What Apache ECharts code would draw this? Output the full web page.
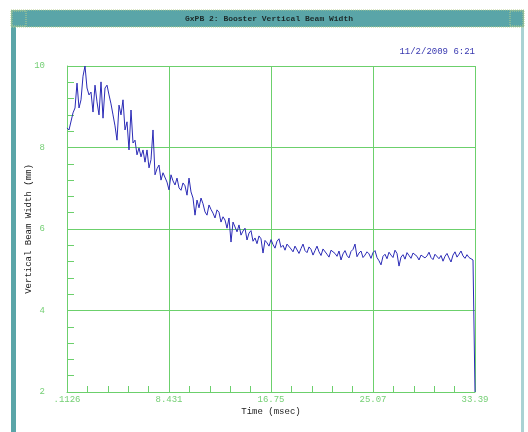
<!DOCTYPE html>
<html>
<head>
<meta charset="utf-8">
<script src="https://cdn.jsdelivr.net/npm/echarts@6/dist/echarts.min.js"></script>
<style>
  html, body { margin: 0; padding: 0; background: #ffffff; }
  #chart { width: 528px; height: 432px; }
</style>
</head>
<body>
<div id="chart"></div>
<script>
// Scope trace: booster vertical beam width (mm), uniformly sampled from the first to the last time stamp
const traceStart = 0.1126;   // msec
const traceEnd = 33.39;      // msec
const beamWidth = [
  8.48, 8.43, 8.40, 8.85, 8.97, 9.58, 8.97, 9.17, 9.75, 10.0,
  9.46, 9.29, 9.36, 8.87, 9.53, 9.12, 8.80, 9.61, 8.72, 9.46,
  9.53, 9.29, 9.07, 8.80, 8.53, 8.18, 9.04, 8.80, 9.17, 8.43,
  8.63, 7.94, 8.92, 8.11, 8.18, 7.82, 7.99, 7.77, 7.94, 7.64,
  7.94, 7.50, 7.70, 8.43, 7.33, 7.48, 7.57, 7.20, 7.38, 7.40,
  7.15, 6.96, 7.33, 7.18, 7.08, 7.25, 7.01, 6.95, 7.13, 7.06,
  6.83, 7.25, 6.91, 6.76, 6.34, 6.71, 6.52, 6.76, 6.62, 6.42,
  6.34, 6.59, 6.48, 6.39, 6.27, 6.47, 6.41, 6.17, 6.30, 6.22,
  6.02, 6.27, 5.68, 6.17, 6.05, 5.93, 6.10, 5.85, 5.95, 6.02,
  5.73, 5.90, 5.96, 5.70, 5.78, 5.64, 5.83, 5.76, 5.41, 5.72,
  5.66, 5.58, 5.74, 5.62, 5.53, 5.70, 5.76, 5.55, 5.60, 5.48,
  5.63, 5.66, 5.51, 5.44, 5.58, 5.62, 5.40, 5.52, 5.63, 5.47,
  5.42, 5.56, 5.50, 5.36, 5.47, 5.58, 5.44, 5.35, 5.51, 5.53,
  5.38, 5.31, 5.48, 5.52, 5.40, 5.33, 5.46, 5.24, 5.39, 5.47,
  5.35, 5.29, 5.45, 5.50, 5.63, 5.32, 5.41, 5.46, 5.30, 5.36,
  5.44, 5.39, 5.28, 5.42, 5.47, 5.30, 5.22, 5.12, 5.33, 5.38,
  5.27, 5.43, 5.36, 5.30, 5.48, 5.40, 5.09, 5.31, 5.37, 5.26,
  5.42, 5.35, 5.28, 5.41, 5.45, 5.33, 5.24, 5.36, 5.40, 5.29,
  5.34, 5.43, 5.30, 5.25, 5.38, 5.42, 5.27, 5.35, 5.21, 5.33,
  5.40, 5.29, 5.19, 5.36, 5.44, 5.31, 5.38, 5.46, 5.34, 5.28,
  5.37, 5.30, 5.32, 5.24, 2.0
];

// Axis tick labels: the time window is split into four equal divisions
const timeTickLabels = ['.1126', '8.431', '16.75', '25.07', '33.39'];
const widthTicks = [2, 4, 6, 8, 10];

const windowTitle = 'GxPB 2: Booster Vertical Beam Width';
const stampText = '11/2/2009 6:21';
const xTitle = 'Time (msec)';
const yTitle = 'Vertical Beam Width (mm)';

const GREEN = '#6cd06c';
const LABEL_GREEN = '#74cf74';
const TEAL = '#5aa5a8';
const MONO = '"Liberation Mono", "DejaVu Sans Mono", monospace';

// the x axis runs in division units; each sample time is expressed in divisions
const divisions = timeTickLabels.length - 1;
const divSpan = (traceEnd - traceStart) / divisions;
const step = (traceEnd - traceStart) / (beamWidth.length - 1);
const tracePoints = beamWidth.map((v, i) => [(i * step) / divSpan, v]);

const chart = echarts.init(document.getElementById('chart'), null, { renderer: 'canvas' });

chart.setOption({
  animation: false,
  backgroundColor: '#ffffff',
  grid: { left: 67, right: 53, top: 66, bottom: 40, containLabel: false },
  xAxis: {
    type: 'value', min: 0, max: divisions, interval: 1,
    axisLine: { show: true, lineStyle: { color: GREEN, width: 1 } },
    axisTick: { show: true, inside: true, length: 6, lineStyle: { color: GREEN } },
    minorTick: { show: true, splitNumber: 5, length: 6, lineStyle: { color: GREEN } },
    splitLine: { show: true, lineStyle: { color: GREEN, width: 1 } },
    minorSplitLine: { show: false },
    axisLabel: {
      show: true, margin: 3, color: LABEL_GREEN, fontFamily: MONO, fontSize: 9,
      formatter: v => timeTickLabels[Math.round(v)] || ''
    },
    name: xTitle, nameLocation: 'middle', nameGap: 15, nameMoveOverlap: false,
    nameTextStyle: { color: '#222', fontFamily: MONO, fontSize: 9 }
  },
  yAxis: {
    type: 'value', min: widthTicks[0], max: widthTicks[widthTicks.length - 1], interval: 2,
    axisLine: { show: true, lineStyle: { color: GREEN, width: 1 } },
    axisTick: { show: true, inside: true, length: 7, lineStyle: { color: GREEN } },
    minorTick: { show: true, splitNumber: 5, length: 7, lineStyle: { color: GREEN } },
    splitLine: { show: true, lineStyle: { color: GREEN, width: 1 } },
    minorSplitLine: { show: false },
    axisLabel: { show: true, margin: 22, color: LABEL_GREEN, fontFamily: MONO, fontSize: 9 },
    name: yTitle, nameLocation: 'middle', nameGap: 34, nameRotate: 90, nameMoveOverlap: false,
    nameTextStyle: { color: '#222', fontFamily: MONO, fontSize: 9 }
  },
  series: [{
    type: 'line',
    data: tracePoints,
    showSymbol: false,
    symbol: 'none',
    smooth: false,
    lineStyle: { color: '#2b2bb6', width: 1 },
    z: 5
  }],
  graphic: [
    // window frame
    { type: 'rect', shape: { x: 11, y: 10, width: 5, height: 422 }, style: { fill: TEAL }, silent: true },
    { type: 'rect', shape: { x: 521, y: 10, width: 3, height: 422 }, style: { fill: '#a9d2d3' }, silent: true },
    { type: 'rect', shape: { x: 11, y: 10, width: 513, height: 17 }, style: { fill: TEAL, stroke: '#b9cf8a', lineWidth: 1, lineDash: [1, 1] }, silent: true },
    { type: 'rect', shape: { x: 12, y: 11, width: 14, height: 15 }, style: { fill: 'none', stroke: '#b9cf8a', lineWidth: 1, lineDash: [1, 1] }, silent: true },
    { type: 'rect', shape: { x: 510, y: 11, width: 13, height: 15 }, style: { fill: 'none', stroke: '#b9cf8a', lineWidth: 1, lineDash: [1, 1] }, silent: true },
    {
      type: 'text', x: 269, y: 18.5,
      style: { text: windowTitle, fill: '#1c2a2a', font: 'bold 8px ' + MONO, align: 'center', verticalAlign: 'middle' },
      silent: true
    },
    {
      type: 'text', x: 475, y: 52,
      style: { text: stampText, fill: '#3838b0', font: '9px ' + MONO, align: 'right', verticalAlign: 'middle' },
      silent: true
    }
  ]
});
</script>
</body>
</html>
